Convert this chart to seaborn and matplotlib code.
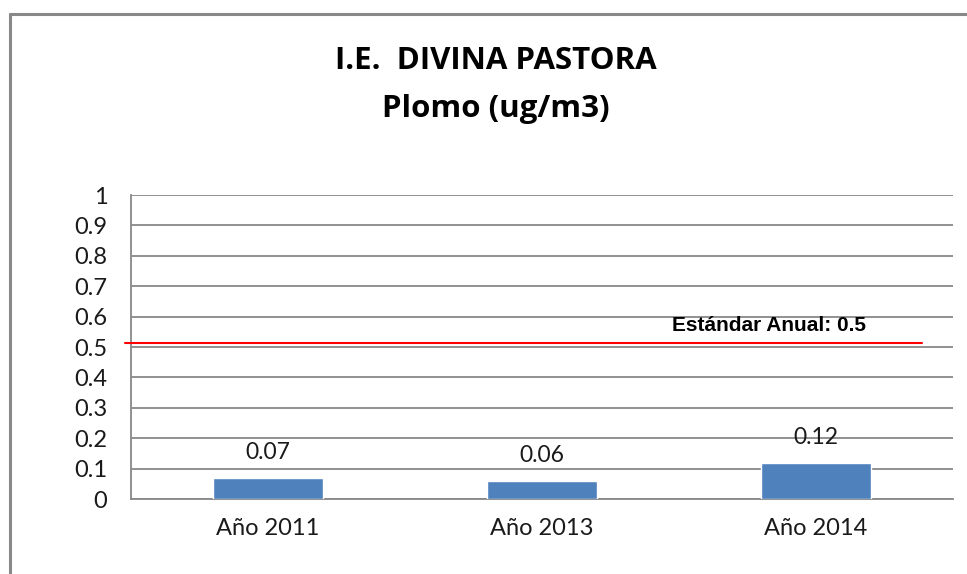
import matplotlib
matplotlib.use("Agg")
import matplotlib.pyplot as plt
import pandas as pd
import seaborn as sns
from matplotlib.lines import Line2D

# data
years = ["Año 2011", "Año 2013", "Año 2014"]
plomo = [0.07, 0.06, 0.12]
estandar = 0.5
estandar_line = 0.513   # red line sits a touch above the 0.5 grid line
y_ticks = [0, 0.1, 0.2, 0.3, 0.4, 0.5, 0.6, 0.7, 0.8, 0.9, 1]
y_tick_labels = ["0", "0.1", "0.2", "0.3", "0.4", "0.5", "0.6", "0.7", "0.8", "0.9", "1"]

df = pd.DataFrame({"anio": years, "plomo": plomo})

sns.set_style("white")
plt.rcParams["font.family"] = ["Lato", "DejaVu Sans"]

fig = plt.figure(figsize=(9.67, 5.74), dpi=100)
ax = fig.add_axes([131 / 967, 75 / 574, 822 / 967, 304 / 574])

sns.barplot(data=df, x="anio", y="plomo", color="#4F81BD", width=0.405,
            saturation=1, ax=ax, zorder=3)

ax.set_ylim(0, 1)
ax.set_xlim(-0.5, 2.5)
ax.set_yticks(y_ticks)
ax.set_yticklabels(y_tick_labels)
ax.yaxis.grid(True, color="#888888", linewidth=1.3)
ax.set_axisbelow(True)
ax.tick_params(axis="both", length=0, labelsize=17, colors="#1a1a1a")
ax.tick_params(axis="y", pad=17)
ax.tick_params(axis="x", pad=14)
ax.set_xlabel("")
ax.set_ylabel("")
for s in ["top", "right"]:
    ax.spines[s].set_visible(False)
for s in ["left", "bottom"]:
    ax.spines[s].set_color("#888888")
    ax.spines[s].set_linewidth(1.3)

# data labels above bars
for i, v in enumerate(plomo):
    ax.annotate(f"{v:.2f}", (i, v), xytext=(0, 18), textcoords="offset points",
                ha="center", va="center", fontsize=16.5, color="#1a1a1a")

# annual standard line
ax.axhline(estandar_line, xmin=-0.007, xmax=0.962, color="#FF0000",
           linewidth=1.5, clip_on=False, zorder=4)
ax.text(769 / 967, 1 - 331 / 574, f"Estándar Anual: {estandar}", transform=fig.transFigure,
        ha="center", va="baseline", fontsize=15, fontweight="bold",
        family=["Liberation Sans", "DejaVu Sans"], color="black")

# titles
title_x = 496 / 967
fig.text(title_x, 1 - 69 / 574, "I.E.  DIVINA PASTORA", ha="center", va="baseline",
         fontsize=22.5, fontweight="bold", color="black",
         family=["Open Sans", "DejaVu Sans"])
fig.text(title_x, 1 - 117 / 574, "Plomo (ug/m3)", ha="center", va="baseline",
         fontsize=22.5, fontweight="bold", color="black",
         family=["Open Sans", "DejaVu Sans"])

# outer chart border (top and left visible)
fig.add_artist(Line2D([10 / 967, 10 / 967], [0, 1 - 14 / 574],
                      transform=fig.transFigure, color="#888888", linewidth=2.2))
fig.add_artist(Line2D([10 / 967, 1], [1 - 14 / 574, 1 - 14 / 574],
                      transform=fig.transFigure, color="#888888", linewidth=2.2))

fig.savefig("out.png", dpi=100)
